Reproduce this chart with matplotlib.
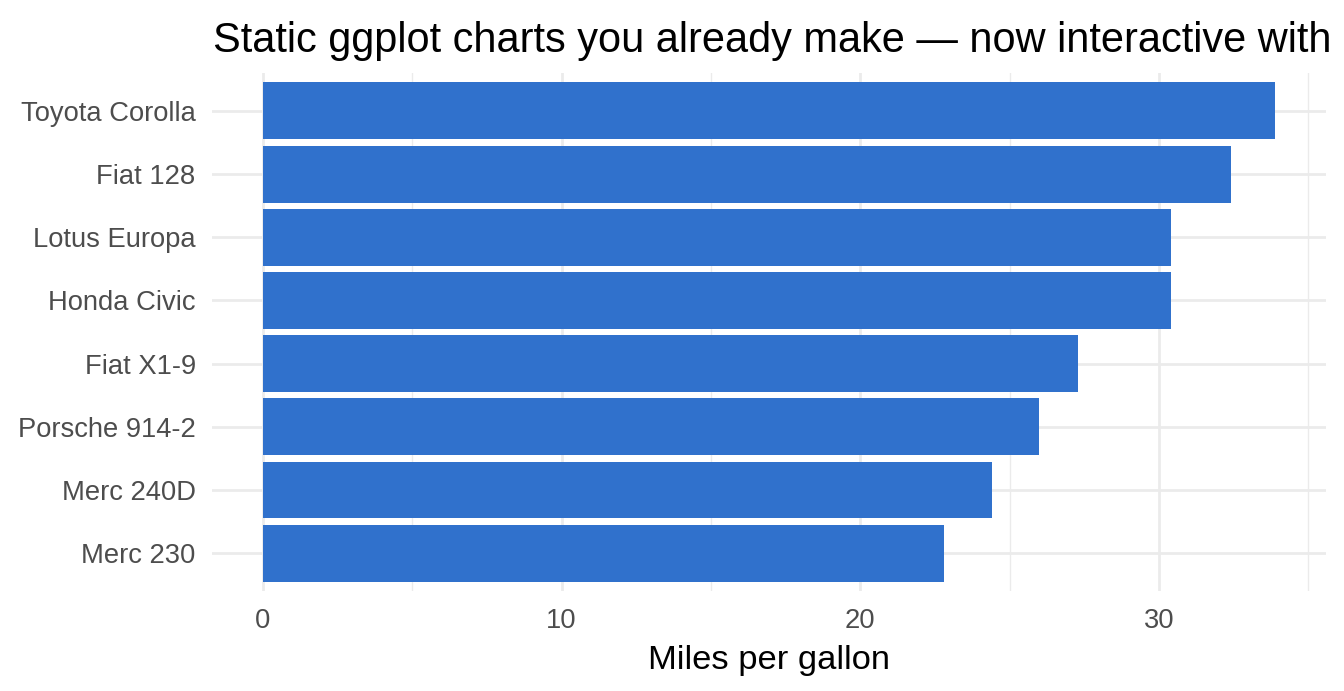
import matplotlib.pyplot as plt

plt.rcParams['font.family'] = ['Liberation Sans', 'DejaVu Sans']

cars = ["Merc 230", "Merc 240D", "Porsche 914-2", "Fiat X1-9",
        "Honda Civic", "Lotus Europa", "Fiat 128", "Toyota Corolla"]
mpg = [22.8, 24.4, 26.0, 27.3, 30.4, 30.4, 32.4, 33.9]
xticks = [0, 10, 20, 30]
xminor = [5, 15, 25, 35]

fig = plt.figure(figsize=(13.44, 6.91), dpi=100)
ax = fig.add_axes([212.4 / 1344, 100 / 691, (1326 - 212.4) / 1344, (591 - 73) / 691])

pos = list(range(1, len(cars) + 1))
ax.barh(pos, mpg, height=0.9, color="#3071CC", zorder=3)

ax.set_xlim(-0.05 * max(mpg), max(mpg) * 1.05)
ax.set_ylim(0.4, len(cars) + 0.6)
ax.set_xticks(xticks)
ax.set_xticks(xminor, minor=True)
ax.set_yticks(pos)
ax.set_yticklabels(cars)

ax.grid(which="major", color="#EBEBEB", linewidth=2.0, zorder=0)
ax.grid(which="minor", axis="x", color="#EBEBEB", linewidth=1.0, zorder=0)
for s in ax.spines.values():
    s.set_visible(False)
ax.tick_params(which="both", length=0)
ax.tick_params(axis="y", labelsize=19.7, labelcolor="#4D4D4D", pad=12)
ax.tick_params(axis="x", labelsize=19.7, labelcolor="#4D4D4D", pad=12)

ax.set_xlabel("Miles per gallon", fontsize=24.8, labelpad=8)
fig.text(213 / 1344, (691 - 52) / 691,
         "Static ggplot charts you already make \u2014 now interactive with",
         fontsize=29.9, ha="left", va="baseline")

fig.savefig("out.png", dpi=100)
